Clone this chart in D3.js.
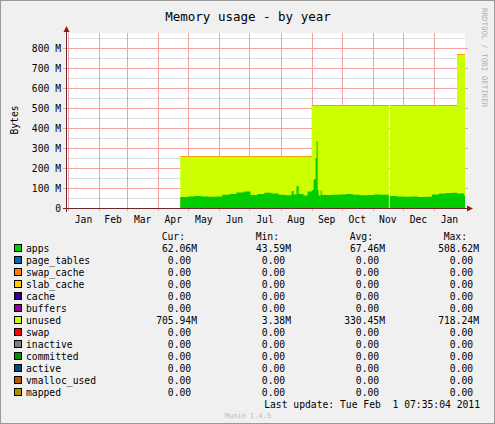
<!DOCTYPE html>
<html><head><meta charset="utf-8">
<script src="https://cdn.jsdelivr.net/npm/d3@7"></script>
<style>body{margin:0;background:#F0F0F0}text{font-family:"DejaVu Sans Mono",monospace;white-space:pre}</style>
</head><body><svg id="c" width="495" height="424"></svg>
<script>
const dates = ["2010-04-23","2010-04-30","2010-05-07","2010-05-14","2010-05-21","2010-05-28","2010-06-04","2010-06-11","2010-06-18","2010-06-25","2010-07-02","2010-07-09","2010-07-16","2010-07-23","2010-07-30","2010-08-06","2010-08-12","2010-08-14","2010-08-17","2010-08-19","2010-08-24","2010-08-28","2010-09-01","2010-09-03","2010-09-05","2010-09-06","2010-09-07","2010-09-08","2010-09-10","2010-09-11","2010-09-14","2010-09-21","2010-09-28","2010-10-05","2010-10-12","2010-10-19","2010-10-26","2010-11-02","2010-11-09","2010-11-16","2010-11-17","2010-11-18","2010-11-25","2010-12-02","2010-12-09","2010-12-16","2010-12-23","2010-12-30","2011-01-06","2011-01-13","2011-01-20","2011-01-24","2011-01-31","2011-02-01"];
const apps =  [55,57,60,58,56,58,66,70,78,82,65,70,76,72,66,64,85,68,110,70,62,82,90,142,250,335,90,62,88,66,65,66,68,70,66,64,65,68,66,68,0,60,58,56,58,55,56,68,72,75,76,72,62,62];
const total = [260,260,260,260,260,260,260,260,260,260,260,260,260,260,260,260,260,260,260,260,260,260,515,515,515,515,515,515,515,515,515,515,515,515,515,515,515,515,515,515,0,515,515,515,515,515,515,515,515,515,515,770,770,770];
const yTicks = [0,100,200,300,400,500,600,700,800];
const months = ["Jan","Feb","Mar","Apr","May","Jun","Jul","Aug","Sep","Oct","Nov","Dec","Jan"];
const legendNames = ["apps","page_tables","swap_cache","slab_cache","cache","buffers","unused","swap","inactive","committed","active","vmalloc_used","mapped"];
const legendColors = ["#00CC00","#0066B3","#FF8000","#FFCC00","#330099","#990099","#CCFF00","#FF0000","#808080","#008F00","#00487D","#B35A00","#B38F00"];
const cur = ["62.06M","0.00","0.00","0.00","0.00","0.00","705.94M","0.00","0.00","0.00","0.00","0.00","0.00"];
const mn  = ["43.59M","0.00","0.00","0.00","0.00","0.00","3.38M","0.00","0.00","0.00","0.00","0.00","0.00"];
const avg = ["67.46M","0.00","0.00","0.00","0.00","0.00","330.45M","0.00","0.00","0.00","0.00","0.00","0.00"];
const mx  = ["508.62M","0.00","0.00","0.00","0.00","0.00","718.24M","0.00","0.00","0.00","0.00","0.00","0.00"];

const svg = d3.select("#c");
const p = d3.timeParse("%Y-%m-%d");
const data = dates.map((d,i)=>({t:p(d),a:apps[i],tot:total[i]}));
const x = d3.scaleTime().domain([p("2009-12-30"),p("2011-02-01")]).range([66,465]);
const y = d3.scaleLinear().domain([0,875]).range([208,33]);

svg.append("rect").attr("x",0.5).attr("y",0.5).attr("width",494).attr("height",423).attr("fill","#F0F0F0").attr("stroke","#9a9a9a");
svg.append("rect").attr("x",66).attr("y",33).attr("width",399).attr("height",175).attr("fill","#fff");
for(let v=50;v<=850;v+=100) svg.append("line").attr("x1",66).attr("x2",465).attr("y1",Math.round(y(v))+0.5).attr("y2",Math.round(y(v))+0.5).attr("stroke","#ddd");
const mTicks = d3.timeMonth.range(p("2010-01-01"),p("2011-01-02"));
const g=svg.append("g");
yTicks.slice(1).forEach(v=>g.append("line").attr("x1",63).attr("x2",468).attr("y1",Math.round(y(v))+0.5).attr("y2",Math.round(y(v))+0.5).attr("stroke","#F4A0A0"));
mTicks.forEach(t=>g.append("line").attr("x1",Math.round(x(t))+0.5).attr("x2",Math.round(x(t))+0.5).attr("y1",33).attr("y2",211).attr("stroke","#F4A0A0"));

const areaT = d3.area().curve(d3.curveStepAfter).x(d=>x(d.t)).y0(y(0)).y1(d=>y(d.tot));
const areaA = d3.area().curve(d3.curveStepAfter).x(d=>x(d.t)).y0(y(0)).y1(d=>y(d.a));
svg.append("path").attr("d",areaT(data)).attr("fill","#CCFF00");
data.slice(0,-1).forEach((d,i)=>{ if(d.tot>0) svg.append("line").attr("x1",x(d.t)).attr("x2",x(data[i+1].t)).attr("y1",y(d.tot)+0.5).attr("y2",y(d.tot)+0.5).attr("stroke","#FF8000").attr("stroke-width",1).attr("opacity",0.75);});
svg.append("path").attr("d",areaA(data)).attr("fill","#00CC00");

svg.append("line").attr("x1",66.5).attr("x2",66.5).attr("y1",30).attr("y2",212).attr("stroke","#6b2b2b");
svg.append("line").attr("x1",63).attr("x2",468).attr("y1",208.5).attr("y2",208.5).attr("stroke","#6b2b2b");
svg.append("path").attr("d","M63.5,32 L66.5,26 L69.5,32 Z").attr("fill","#8b1a1a");
svg.append("path").attr("d","M467,205.5 L473,208.5 L467,211.5 Z").attr("fill","#8b1a1a");

yTicks.forEach(v=>svg.append("text").attr("x",61).attr("y",y(v)+3.5).attr("text-anchor","end").attr("font-size",9.7).text(v===0?"0":v+" M"));
months.forEach((m,i)=>{const t0=d3.timeMonth.offset(p("2010-01-01"),i),t1=d3.timeMonth.offset(t0,1);
 svg.append("text").attr("x",(x(t0)+x(t1))/2).attr("y",223).attr("text-anchor","middle").attr("font-size",9.7).text(m);});

svg.append("text").attr("x",248).attr("y",21).attr("text-anchor","middle").attr("font-size",12.5).text("Memory usage - by year");
svg.append("text").attr("transform","translate(18,120) rotate(-90)").attr("text-anchor","middle").attr("font-size",9.7).text("Bytes");
svg.append("text").attr("transform","translate(482,8) rotate(90)").attr("font-size",7.5).attr("fill","#b0b0b0").text("RRDTOOL / TOBI OETIKER");

const cw=5.83;
[["Cur:",185],["Min:",279],["Avg:",373],["Max:",467]].forEach(h=>svg.append("text").attr("x",h[1]).attr("y",240).attr("text-anchor","end").attr("font-size",9.7).text(h[0]));
const cols=[[cur,197],[mn,291],[avg,385],[mx,479]];
legendNames.forEach((n,i)=>{const yy=252+i*12;
 svg.append("rect").attr("x",14.5).attr("y",yy-7.5).attr("width",7).attr("height",7).attr("fill",legendColors[i]).attr("stroke","#000");
 svg.append("text").attr("x",26).attr("y",yy).attr("font-size",9.7).text(n);
 cols.forEach(c=>{const s=c[0][i];svg.append("text").attr("x",c[1]-(s.endsWith("M")?0:cw)).attr("y",yy).attr("text-anchor","end").attr("font-size",9.7).text(s);});
});
svg.append("text").attr("x",480).attr("y",408).attr("text-anchor","end").attr("font-size",9.7).text("Last update: Tue Feb  1 07:35:04 2011");
svg.append("text").attr("x",248).attr("y",418).attr("text-anchor","middle").attr("font-size",7).attr("fill","#bbb").text("Munin 1.4.5");
</script></body></html>
